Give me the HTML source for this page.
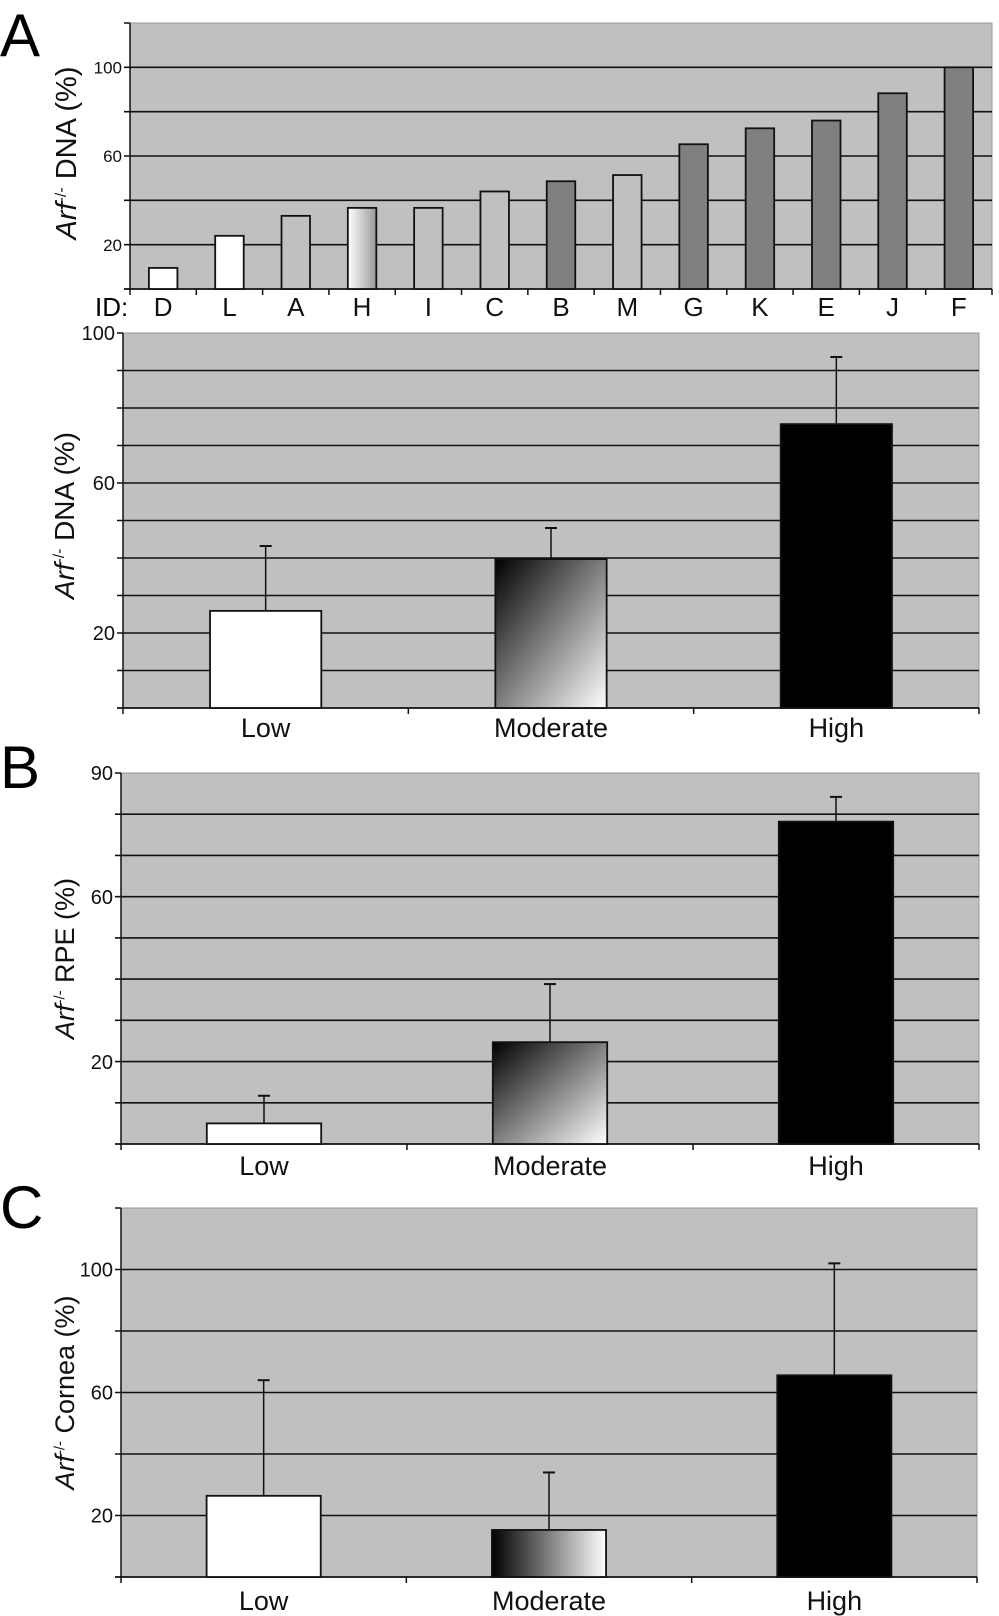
<!DOCTYPE html>
<html><head><meta charset="utf-8"><style>
body{margin:0;background:#fff;}
svg{display:block;font-family:"Liberation Sans",sans-serif;}
</style></head><body>
<svg id="fig" width="999" height="1616" viewBox="0 0 999 1616">
<defs>
<linearGradient id="gH" x1="0" y1="0" x2="1" y2="0"><stop offset="0" stop-color="#fff"/><stop offset="1" stop-color="#999"/></linearGradient>
<linearGradient id="gDiag" x1="0" y1="0" x2="1" y2="1"><stop offset="0" stop-color="#000"/><stop offset="1" stop-color="#fff"/></linearGradient>
<linearGradient id="gHor" x1="0" y1="0" x2="1" y2="0"><stop offset="0" stop-color="#000"/><stop offset="1" stop-color="#fff"/></linearGradient>
</defs>
<text x="0" y="56" font-size="60">A</text>
<text x="0" y="788" font-size="60">B</text>
<text x="0" y="1228" font-size="60">C</text>
<text x="95" y="316" font-size="26">ID:</text>
</svg>
<script>
const idCats=["D","L","A","H","I","C","B","M","G","K","E","J","F"];
const idVals=[9.5,24,33,36.6,36.6,44,48.6,51.4,65.3,72.5,76,88.3,100];
const idFills=["#fff","#fff","#c0c0c0","url(#gH)","#c0c0c0","#c0c0c0","#808080","#c0c0c0","#808080","#808080","#808080","#808080","#808080"];
const grpCats=["Low","Moderate","High"];
const dnaVals=[25.9,39.7,75.7];
const dnaErr=[43.2,48,93.6];
const rpeVals=[5,24.7,78.2];
const rpeErr=[11.7,38.8,84.2];
const corVals=[26.4,15.3,65.6];
const corErr=[64,34,102];
const dnaTicks=[20,60,100];
const rpeTicks=[20,60,90];
const corTicks=[20,60,100];
const NS="http://www.w3.org/2000/svg";
const svg=document.getElementById('fig');
function el(t,a,txt){const e=document.createElementNS(NS,t);for(const k in a)e.setAttribute(k,a[k]);if(txt!=null)e.textContent=txt;svg.appendChild(e);return e;}
function chart(o){
  const y=v=>o.y0-(v/o.max)*(o.y0-o.top);
  const bg=el('rect',{x:o.left,y:o.top,width:o.right-o.left,height:o.y0-o.top,fill:'#c0c0c0',stroke:'#999','stroke-width':1});
  
  
  for(let v=o.step;v<=o.max;v+=o.step){
    if(v===o.max&&o.noTopGrid)continue;
    const g=el('line',{x1:o.left-6,x2:o.right,y1:y(v),y2:y(v),stroke:'#111','stroke-width':1.6});
    
    
  }
  const ax=el('line',{x1:o.left,x2:o.left,y1:o.top,y2:o.y0,stroke:'#111','stroke-width':1.5});
  
  
  const ax2=el('line',{x1:o.left-6,x2:o.right,y1:o.y0,y2:o.y0,stroke:'#111','stroke-width':1.8});
  
  
  const tt=el('line',{x1:o.left-6,x2:o.left,y1:o.top,y2:o.top,stroke:'#111','stroke-width':1.5});
  
  
  o.ticks.forEach(t=>{
    const tx=el('text',{x:o.left-8,y:y(t)+o.tfs*0.36,'font-size':o.tfs,'text-anchor':'end',fill:'#111'},String(t));
    
    
  });
  const n=o.cats.length,w=(o.right-o.left)/n;
  for(let i=0;i<=n;i++){
    const tk=el('line',{x1:o.left+i*w,x2:o.left+i*w,y1:o.y0,y2:o.y0+6,stroke:'#111','stroke-width':1.5});
    
    
  }
  o.cats.forEach((c,i)=>{
    const cx=o.left+(i+0.5)*w,bw=w*o.bwf;
    if(o.err){
      const e1=el('line',{x1:cx,x2:cx,y1:y(o.err[i]),y2:y(o.vals[i]),stroke:'#111','stroke-width':1.5});
      
      
      const e2=el('line',{x1:cx-6,x2:cx+6,y1:y(o.err[i]),y2:y(o.err[i]),stroke:'#111','stroke-width':2});
      
      
    }
    const b=el('rect',{x:cx-bw/2,y:y(o.vals[i]),width:bw,height:o.y0-y(o.vals[i]),fill:o.fills[i],stroke:'#111','stroke-width':1.8});
    
    
    const l=el('text',{x:cx,y:o.labY,'font-size':o.cfs,'text-anchor':'middle',fill:'#111'},c);
    
    
  });
  const ty=(o.top+o.y0)/2+o.tOff;
  const tl=el('text',{x:0,y:0,'font-size':o.tifs,'text-anchor':'middle',fill:'#111',transform:`translate(${o.tx},${ty}) rotate(-90)`});
  
  
  const a=document.createElementNS(NS,'tspan');a.setAttribute('font-style','italic');a.textContent='Arf';tl.appendChild(a);
  const s=document.createElementNS(NS,'tspan');s.setAttribute('font-size',o.tifs*0.55);s.setAttribute('dy',-o.tifs*0.35);s.textContent='-/-';tl.appendChild(s);
  const r=document.createElementNS(NS,'tspan');r.setAttribute('dy',o.tifs*0.35);r.textContent=' '+o.title;tl.appendChild(r);
}
chart({name:'id-chart',left:130,right:992,top:23,y0:289,max:120,step:20,ticks:dnaTicks,cats:idCats,vals:idVals,fills:idFills,bwf:0.43,labY:316,cfs:26,tfs:17,tifs:29,tx:76,tOff:-3,title:'DNA (%)',noTopGrid:true});
chart({name:'dna-chart',left:123,right:979,top:333,y0:708,max:100,step:10,ticks:dnaTicks,cats:grpCats,vals:dnaVals,err:dnaErr,fills:['#fff','url(#gDiag)','#000'],bwf:0.39,labY:737,cfs:27,tfs:20,tifs:28,tx:74,tOff:-5,title:'DNA (%)',noTopGrid:true});
chart({name:'rpe-chart',left:121,right:979,top:773,y0:1144,max:90,step:10,ticks:rpeTicks,cats:grpCats,vals:rpeVals,err:rpeErr,fills:['#fff','url(#gDiag)','#000'],bwf:0.4,labY:1175,cfs:27,tfs:20,tifs:27,tx:74,tOff:0,title:'RPE (%)',noTopGrid:true});
chart({name:'cornea-chart',left:121,right:977,top:1208,y0:1577,max:120,step:20,ticks:corTicks,cats:grpCats,vals:corVals,err:corErr,fills:['#fff','url(#gHor)','#000'],bwf:0.4,labY:1610,cfs:27,tfs:20,tifs:27,tx:74,tOff:0,title:'Cornea (%)',noTopGrid:true});
</script>
</body></html>
